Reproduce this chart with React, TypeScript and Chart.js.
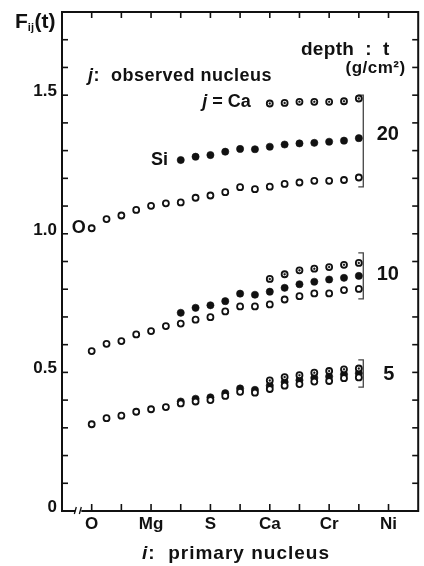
import React, { useEffect, useRef } from 'react';
import { Chart, registerables } from 'chart.js';

Chart.register(...registerables);

// primary nucleus atomic numbers (x positions)
const primaryZ_O = [8, 9, 10, 11, 12, 13, 14, 15, 16, 17, 18, 19, 20, 21, 22, 23, 24, 25, 26];
const primaryZ_Si = [14, 15, 16, 17, 18, 19, 20, 21, 22, 23, 24, 25, 26];
const primaryZ_Ca = [20, 21, 22, 23, 24, 25, 26];

// depth t = 20 g/cm2
const t20_O = [1.02, 1.053, 1.066, 1.086, 1.101, 1.11, 1.113, 1.13, 1.138, 1.15, 1.168, 1.161, 1.17, 1.18, 1.185, 1.191, 1.191, 1.194, 1.203];
const t20_Si = [1.266, 1.278, 1.284, 1.296, 1.306, 1.305, 1.314, 1.322, 1.326, 1.328, 1.332, 1.336, 1.345];
const t20_Ca = [1.47, 1.472, 1.476, 1.476, 1.476, 1.478, 1.488];

// depth t = 10 g/cm2
const t10_O = [0.577, 0.603, 0.613, 0.637, 0.649, 0.667, 0.676, 0.69, 0.699, 0.72, 0.738, 0.738, 0.745, 0.763, 0.775, 0.785, 0.785, 0.797, 0.801];
const t10_Si = [0.715, 0.733, 0.742, 0.757, 0.784, 0.78, 0.791, 0.805, 0.818, 0.827, 0.835, 0.841, 0.848];
const t10_Ca = [0.837, 0.854, 0.868, 0.874, 0.88, 0.888, 0.895];

// depth t = 5 g/cm2
const t5_O = [0.313, 0.335, 0.344, 0.358, 0.367, 0.375, 0.388, 0.395, 0.4, 0.415, 0.43, 0.427, 0.44, 0.452, 0.458, 0.467, 0.469, 0.479, 0.482];
const t5_Si = [0.395, 0.405, 0.41, 0.425, 0.442, 0.437, 0.452, 0.465, 0.472, 0.48, 0.485, 0.493, 0.497];
const t5_Ca = [0.471, 0.483, 0.49, 0.499, 0.505, 0.511, 0.514];

// axes
const xTickZ = [8, 10, 12, 14, 16, 18, 20, 22, 24, 26, 28];
const xLabelZ = [8, 12, 16, 20, 24, 28];
const xLabelNames = ['O', 'Mg', 'S', 'Ca', 'Cr', 'Ni'];
const yTickValues = [0.1, 0.2, 0.3, 0.4, 0.5, 0.6, 0.7, 0.8, 0.9, 1.0, 1.1, 1.2, 1.3, 1.4, 1.5, 1.6, 1.7];
const yLabelValues = [0, 0.5, 1.0, 1.5];
const yLabelTexts = ['0', '0.5', '1.0', '1.5'];

// depth groups: label and bracket extent (value range)
const depthLabels = ['20', '10', '5'];
const depthBracketTop = [1.5, 0.931, 0.545];
const depthBracketBottom = [1.169, 0.765, 0.447];

const FONT = '"Liberation Sans", Arial, Helvetica, sans-serif';

const pts = (xs: number[], ys: number[]) => xs.map((x, i) => ({ x, y: ys[i] }));

function openSet(data: any) {
  return { data, pointStyle: 'circle', pointRadius: 3.0, pointBorderWidth: 1.8, pointBackgroundColor: '#fff', pointBorderColor: '#111', showLine: false };
}
function filledSet(data: any) {
  return { data, pointStyle: 'circle', pointRadius: 3.6, pointBorderWidth: 0.6, pointBackgroundColor: '#111', pointBorderColor: '#111', showLine: false };
}
function dotSet(data: any) {
  return { data, pointStyle: 'circle', pointRadius: 1.0, pointBorderWidth: 0.4, pointBackgroundColor: '#111', pointBorderColor: '#111', showLine: false };
}

const framePlugin = {
  id: 'framePlugin',
  beforeDatasetsDraw(chart: any) {
    const { ctx, chartArea: a, scales } = chart;
    const sx = scales.x, sy = scales.y;
    const line = (x1: number, y1: number, x2: number, y2: number) => {
      ctx.beginPath(); ctx.moveTo(x1, y1); ctx.lineTo(x2, y2); ctx.stroke();
    };
    ctx.save();
    ctx.strokeStyle = '#111';
    ctx.lineWidth = 2;
    ctx.strokeRect(a.left, a.top, a.right - a.left, a.bottom - a.top);
    ctx.lineWidth = 1.6;
    for (const z of xTickZ) {
      const p = sx.getPixelForValue(z);
      line(p, a.bottom, p, a.bottom - 7);
      line(p, a.top, p, a.top + 6);
    }
    for (const v of yTickValues) {
      const p = sy.getPixelForValue(v);
      line(a.left, p, a.left + 6, p);
      line(a.right, p, a.right - 6, p);
    }
    // axis break mark on x axis
    const bx = sx.getPixelForValue(7.1);
    ctx.fillStyle = '#fff';
    ctx.fillRect(bx - 3, a.bottom - 2, 6, 4);
    ctx.lineWidth = 1.3;
    line(bx - 4, a.bottom + 3, bx - 2, a.bottom - 4);
    line(bx + 1, a.bottom + 3, bx + 3, a.bottom - 4);

    // brackets
    ctx.strokeStyle = '#444';
    ctx.lineWidth = 1.3;
    const brx = sx.getPixelForValue(26.3);
    depthLabels.forEach((_, i) => {
      const t = sy.getPixelForValue(depthBracketTop[i]);
      const b = sy.getPixelForValue(depthBracketBottom[i]);
      ctx.beginPath();
      ctx.moveTo(brx - 5, t); ctx.lineTo(brx, t); ctx.lineTo(brx, b); ctx.lineTo(brx - 5, b);
      ctx.stroke();
    });
    ctx.restore();
  },
  afterDraw(chart: any) {
    const { ctx, chartArea: a, scales } = chart;
    const sx = scales.x, sy = scales.y;
    ctx.save();
    ctx.fillStyle = '#111';
    ctx.textBaseline = 'alphabetic';
    const txt = (s: string, x: number, y: number, size: number, align: CanvasTextAlign = 'left', italic = false, spacing = 0) => {
      ctx.font = `${italic ? 'italic ' : ''}bold ${size}px ${FONT}`;
      ctx.textAlign = align;
      (ctx as any).letterSpacing = `${spacing}px`;
      ctx.fillText(s, x, y);
      const w = ctx.measureText(s).width;
      (ctx as any).letterSpacing = '0px';
      return w;
    };
    const measure = (s: string, size: number, italic = false, spacing = 0) => {
      ctx.font = `${italic ? 'italic ' : ''}bold ${size}px ${FONT}`;
      (ctx as any).letterSpacing = `${spacing}px`;
      const w = ctx.measureText(s).width;
      (ctx as any).letterSpacing = '0px';
      return w;
    };
    // y labels
    yLabelValues.forEach((v, i) => {
      txt(yLabelTexts[i], a.left - 5, sy.getPixelForValue(v) + 1, 17, 'right');
    });
    // x labels
    xLabelZ.forEach((z, i) => {
      txt(xLabelNames[i], sx.getPixelForValue(z), a.bottom + 18, 17, 'center');
    });
    // x title
    {
      const y = a.bottom + 48;
      const rest = ':  primary nucleus';
      const w1 = measure('i', 19, true, 1);
      const w2 = measure(rest, 19, false, 1);
      const x0 = 236 - (w1 + w2) / 2;
      txt('i', x0, y, 19, 'left', true, 1);
      txt(rest, x0 + w1, y, 19, 'left', false, 1);
    }
    // y title F_ij(t)
    {
      let x = 15;
      const y = 28;
      x += txt('F', x, y, 21);
      x += txt('ij', x, y + 3, 11) + 0.5;
      txt('(t)', x, y, 21);
    }
    // j: observed nucleus
    {
      let x = sx.getPixelForValue(7.75);
      const y = sy.getPixelForValue(1.551);
      x += txt('j', x, y, 18, 'left', true, 0.5);
      txt(':  observed nucleus', x, y, 18, 'left', false, 0.5);
    }
    // depth : t
    txt('depth  :  t', sx.getPixelForValue(22.1), sy.getPixelForValue(1.645), 19, 'left', false, 0.3);
    txt('(g/cm²)', sx.getPixelForValue(25.1), sy.getPixelForValue(1.58), 17, 'left', false, 0.5);
    // j = Ca
    {
      let x = sx.getPixelForValue(15.45);
      const y = sy.getPixelForValue(1.457);
      x += txt('j', x, y, 18, 'left', true);
      txt(' = Ca', x, y, 18);
    }
    // Si
    txt('Si', sx.getPixelForValue(12.0), sy.getPixelForValue(1.248), 18);
    // O
    txt('O', sx.getPixelForValue(7.6), sy.getPixelForValue(1.003), 18, 'right');
    // depth values
    const lx = sx.getPixelForValue(27.2);
    txt(depthLabels[0], lx, sy.getPixelForValue(1.338), 20);
    txt(depthLabels[1], lx, sy.getPixelForValue(0.833), 20);
    txt(depthLabels[2], sx.getPixelForValue(27.65), sy.getPixelForValue(0.473), 20);
    ctx.restore();
  },
};

export default function App() {
  const ref = useRef<HTMLCanvasElement | null>(null);
  useEffect(() => {
    document.body.style.margin = '0';
    const canvas = ref.current;
    if (!canvas) return;
    const datasets: any[] = [
      dotSet(pts(primaryZ_Ca, t20_Ca)), openSet(pts(primaryZ_Ca, t20_Ca)), openSet(pts(primaryZ_O, t20_O)), filledSet(pts(primaryZ_Si, t20_Si)),
      dotSet(pts(primaryZ_Ca, t10_Ca)), openSet(pts(primaryZ_Ca, t10_Ca)), openSet(pts(primaryZ_O, t10_O)), filledSet(pts(primaryZ_Si, t10_Si)),
      dotSet(pts(primaryZ_Ca, t5_Ca)), openSet(pts(primaryZ_O, t5_O)), openSet(pts(primaryZ_Ca, t5_Ca)), filledSet(pts(primaryZ_Si, t5_Si)),
    ];
    const chart = new Chart(canvas, {
      type: 'scatter',
      data: { datasets },
      options: {
        animation: false,
        responsive: false,
        devicePixelRatio: 1,
        layout: { padding: { left: 62, right: 4, top: 12, bottom: 55 } },
        plugins: { legend: { display: false }, tooltip: { enabled: false } },
        scales: {
          x: { type: 'linear', min: 6, max: 30, display: false },
          y: { type: 'linear', min: 0, max: 1.8, display: false },
        },
        events: [],
      },
      plugins: [framePlugin],
    } as any);
    return () => chart.destroy();
  }, []);
  return (
    <div style={{ position: 'fixed', left: 0, top: 0, width: 424, height: 566, background: '#fff' }}>
      <canvas ref={ref} width={424} height={566} style={{ display: 'block', width: 424, height: 566 }} />
    </div>
  );
}
